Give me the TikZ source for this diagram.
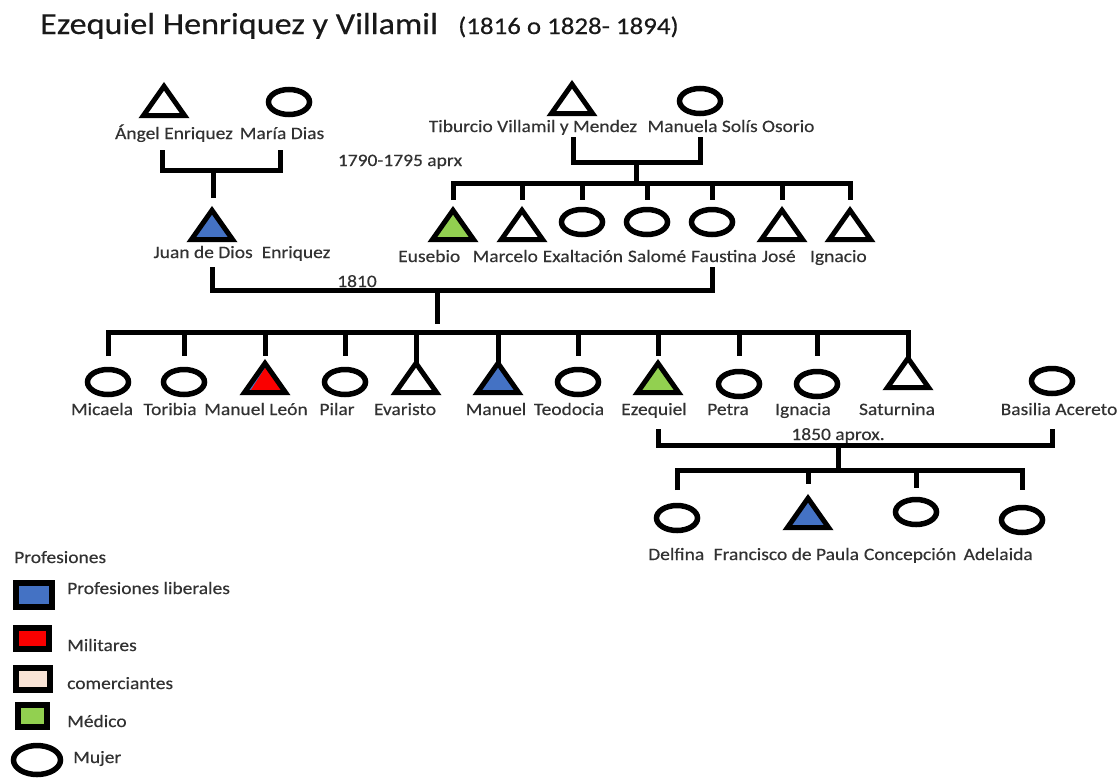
\documentclass[tikz,border=0pt]{standalone}
\usepackage{fontspec}
\setmainfont{Carlito}[FakeStretch=1.12, FakeBold=0.35]
\usetikzlibrary{shapes.geometric,calc}

\definecolor{lib}{RGB}{68,114,196}
\definecolor{mil}{RGB}{250,0,0}
\definecolor{com}{RGB}{250,228,214}
\definecolor{med}{RGB}{146,208,80}
\definecolor{ink}{RGB}{50,50,50}
\definecolor{head}{RGB}{25,25,25}

\tikzset{
  lbl/.style={font=\fontsize{17.4}{20}\selectfont, text=ink, inner sep=0pt, anchor=base},
  seq/.style={lbl, anchor=base west},
  bar/.style={draw=black, line width=5pt, line join=miter},
  mujer/.style={ellipse, draw=black, fill=white, line width=5.5pt,
    minimum width=41pt, minimum height=25pt, inner sep=0pt},
  tribox/.style={rectangle, minimum width=41pt, minimum height=29pt, inner sep=0pt},
  triline/.style={draw=black, line width=5pt, line join=miter},
  keybox/.style={rectangle, draw=black, line width=6pt, inner sep=0pt},
}

% male: triangle node, filled with the colour of his profession
\newcommand\hombre[4]{%
  \node[tribox] (#1) at (#2,#3) {};
  \filldraw[triline, fill=#4] (#1.south west) -- (#1.north) -- (#1.south east) -- cycle;}

\begin{document}
\begin{tikzpicture}[x=1pt, y=-1pt]
\useasboundingbox (0,0) rectangle (1118,782);
\fill[white] (0,0) rectangle (1118,782);

% heading
\node[inner sep=0pt, anchor=base west, text=head, font=\fontsize{30.5}{34}\selectfont]
  (title) at (40,34) {Ezequiel Henriquez y Villamil};
\node[inner sep=0pt, anchor=base west, text=head, font=\fontsize{24}{28}\selectfont]
  (dates) at (458,34) {(1816 o 1828- 1894)};

% ---------- first generation ----------
\hombre{angel}{164}{101}{white}
\node[mujer] (maria) at (289,102) {};
\node[lbl] (angelL) at (174,139) {Ángel Enriquez};
\node[lbl] (mariaL) at (282,139) {María Dias};

\hombre{tiburcio}{572}{99}{white}
\node[mujer] (manuela) at (700,101) {};
\node[lbl] (tiburcioL) at (533,132) {Tiburcio Villamil y Mendez};
\node[lbl] (manuelaL) at (731,132) {Manuela Solís Osorio};

\node[lbl] (aprx) at (400,166) {1790-1795 aprx};

% ---------- second generation ----------
\hombre{juan}{212}{225}{lib}
\node[lbl] (juanL) at (242,258) {Juan de Dios\hspace{9pt}Enriquez};

\hombre{eusebio}{453}{225}{med}
\hombre{marcelo}{522}{225}{white}
\node[mujer] (exaltacion) at (582,222) {};
\node[mujer] (salome) at (647,222) {};
\node[mujer] (faustina) at (712,222) {};
\hombre{jose}{782}{225}{white}
\hombre{ignacio}{850}{225}{white}

\node[seq] (eusebioL) at (398,262) {Eusebio};
\node[seq] (marceloL) at ([xshift=12pt]eusebioL.base east) {Marcelo};
\node[seq] (exaltacionL) at ([xshift=4.5pt]marceloL.base east) {Exaltación};
\node[seq] (salomeL) at ([xshift=4.5pt]exaltacionL.base east) {Salomé};
\node[seq] (faustinaL) at ([xshift=4.5pt]salomeL.base east) {Faustina};
\node[seq] (joseL) at ([xshift=4.5pt]faustinaL.base east) {José};
\node[seq] (ignacioL) at ([xshift=14pt]joseL.base east) {Ignacio};

% ---------- third generation ----------
\node[mujer] (micaela) at (108,382) {};
\node[mujer] (toribia) at (184,382) {};
% Manuel León: red over a thin blue sliver
\node[tribox] (manuelleon) at (265,378) {};
\fill[lib] (manuelleon.south west) -- (manuelleon.north) -- (manuelleon.south east) -- cycle;
\fill[mil] ($(manuelleon.south west)+(5,0)$) -- ($(manuelleon.north)+(1,3)$)
  -- (manuelleon.south east) -- cycle;
\draw[triline] (manuelleon.south west) -- (manuelleon.north) -- (manuelleon.south east) -- cycle;
\node[mujer] (pilar) at (345,382) {};
\hombre{evaristo}{416}{378}{white}
\hombre{manuel}{498}{378}{lib}
\node[mujer] (teodocia) at (578,382) {};
\hombre{ezequiel}{658}{378}{med}
\node[mujer] (petra) at (739,384) {};
\node[mujer] (ignacia) at (817,384) {};
\hombre{saturnina}{908}{373}{white}
\node[mujer] (basilia) at (1052,381) {};

\node[lbl] (micaelaL) at (102,415) {Micaela};
\node[lbl] (toribiaL) at (170,415) {Toribia};
\node[lbl] (manuelleonL) at (256,415) {Manuel León};
\node[lbl] (pilarL) at (337,415) {Pilar};
\node[lbl] (evaristoL) at (405,415) {Evaristo};
\node[lbl] (manuelL) at (496,415) {Manuel};
\node[lbl] (teodociaL) at (569,415) {Teodocia};
\node[lbl] (ezequielL) at (654,415) {Ezequiel};
\node[lbl] (petraL) at (728,415) {Petra};
\node[lbl] (ignaciaL) at (803,415) {Ignacia};
\node[lbl] (saturninaL) at (897,415) {Saturnina};
\node[lbl] (basiliaL) at (1059,415) {Basilia Acereto};

% ---------- fourth generation ----------
\node[mujer] (delfina) at (677,518) {};
\hombre{francisco}{808}{513}{lib}
\node[mujer] (concepcion) at (916,512) {};
\node[mujer] (adelaida) at (1022,520) {};

\node[seq] (delfinaL) at (648,560) {Delfina};
\node[seq] (franciscoL) at ([xshift=9pt]delfinaL.base east) {Francisco de Paula};
\node[seq] (concepcionL) at ([xshift=4.5pt]franciscoL.base east) {Concepción};
\node[seq] (adelaidaL) at ([xshift=7pt]concepcionL.base east) {Adelaida};

% ---------- unions and descent lines ----------
% Ángel + María -> Juan de Dios
\coordinate (am) at (213,170);
\coordinate (amL) at (162,150);
\coordinate (amR) at (280,150);
\draw[bar] (amL) |- (am) -| (amR);
\draw[bar] (am) -- (am |- 0,198);

% Tiburcio + Manuela -> seven children
\coordinate (tm) at (636,162);
\coordinate (tmL) at (573,137);
\coordinate (tmR) at (700,137);
\draw[bar] (tmL) |- (tm) -| (tmR);
\coordinate (sib) at (636,183);
\coordinate (r2top) at (0,200);
\draw[bar] (tm) -- (sib);
\draw[bar] (eusebio |- r2top) |- (sib) -| (ignacio |- r2top);
\foreach \c in {marcelo,exaltacion,salome,faustina,jose}
  \draw[bar] (\c |- sib) -- (\c |- r2top);

% Juan de Dios + Faustina (1810)
\coordinate (jf) at (437,290);
\coordinate (r2bot) at (0,267);
\draw[bar] (juan |- r2bot) |- (jf) -| (faustina |- r2bot);
\draw[bar] (jf) -- (jf |- 0,324);
\node[lbl] (y1810) at (357,287) {1810};

% children of Juan de Dios and Faustina
\coordinate (kids3) at (437,332);
\coordinate (r3top) at (0,356);
\draw[bar] (micaela |- r3top) |- (kids3) -| (saturnina.north);
\foreach \c in {toribia,manuelleon,pilar,teodocia,ezequiel,petra,ignacia}
  \draw[bar] (\c |- kids3) -- (\c |- r3top);
\draw[bar] (evaristo |- kids3) -- (evaristo.north);
\draw[bar] (manuel |- kids3) -- (manuel.north);

% Ezequiel + Basilia (1850 aprox.)
\coordinate (eb) at (838,445);
\coordinate (r3bot) at (0,429);
\draw[bar] (ezequiel |- r3bot) |- (eb) -| (basilia |- r3bot);
\node[lbl] (y1850) at (838,440) {1850 aprox.};
\coordinate (kids4) at (838,470);
\draw[bar] (eb) -- (kids4);
\coordinate (r4top) at (0,490);
\draw[bar] (delfina |- r4top) |- (kids4) -| (adelaida |- r4top);
\draw[bar] (francisco |- kids4) -- (francisco |- 0,484);
\draw[bar] (concepcion |- kids4) -- (concepcion |- 0,488);

% ---------- key ----------
\node[seq] (keyhead) at (14,563) {Profesiones};
\node[keybox, fill=lib, minimum width=36pt, minimum height=24pt] (klib) at (34,595) {};
\node[keybox, fill=mil, minimum width=33pt, minimum height=21pt] (kmil) at (32.5,638.5) {};
\node[keybox, fill=com, minimum width=34pt, minimum height=22pt] (kcom) at (33,679) {};
\node[keybox, fill=med, minimum width=29pt, minimum height=22pt] (kmed) at (32.5,716) {};
\node[ellipse, draw=black, line width=5.5pt, minimum width=47pt, minimum height=29pt,
  inner sep=0pt] (kmuj) at (37,760) {};
\node[seq] (klibL) at (67,594) {Profesiones liberales};
\node[seq] (kmilL) at (67,651) {Militares};
\node[seq] (kcomL) at (67,689) {comerciantes};
\node[seq] (kmedL) at (67,727) {Médico};
\node[seq] (kmujL) at (73,763) {Mujer};
\end{tikzpicture}
\end{document}
